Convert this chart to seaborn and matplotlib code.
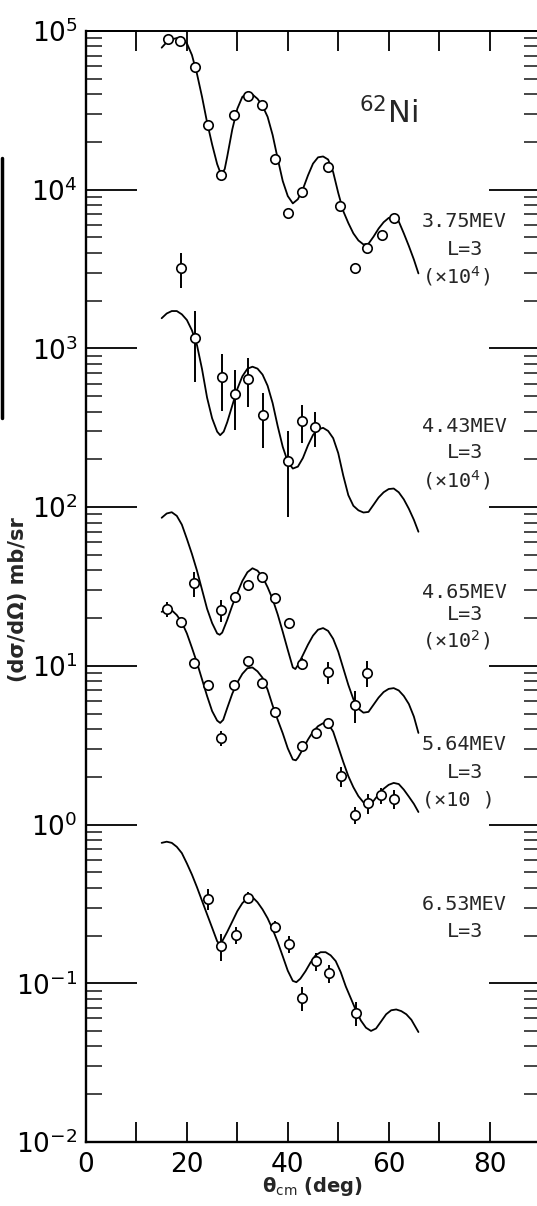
import numpy as np
import pandas as pd
import matplotlib
matplotlib.use("Agg")
import matplotlib.pyplot as plt
import seaborn as sns
from matplotlib.ticker import FixedLocator, LogLocator, NullFormatter
from matplotlib.lines import Line2D

# ---- levels of 62Ni, L=3 transfer, and the factor each set is multiplied by ----
levels = ["3.75", "4.43", "4.65", "5.64", "6.53"]
scale = [1e4, 1e4, 1e2, 1e1, 1.0]
scale_text = ["(×10$^{4}$)", "(×10$^{4}$)", "(×10$^{2}$)", "(×10 )", None]

# ---- DWBA curves: theta_cm (deg), dsigma/dOmega (mb/sr) ----
th_375 = [15, 16, 17, 18, 19, 20, 21, 22, 23, 24, 25, 26, 26.8, 27.5, 28, 29, 30, 31, 32, 33,
          34, 35, 36, 37, 38, 39, 40, 41, 42, 43, 44, 45, 46, 47, 48, 49, 50, 51, 52, 53, 54,
          55, 56, 57, 58, 59, 60, 61, 62, 63, 64, 65, 65.9]
cs_375 = [7.85, 8.51, 8.87, 9.02, 8.91, 8.36, 7.06, 5.37, 3.85, 2.66, 1.93, 1.45, 1.24, 1.35,
          1.62, 2.40, 3.24, 3.85, 4.05, 3.98, 3.74, 3.37, 2.88, 2.21, 1.57, 1.135, 0.912, 0.820,
          0.871, 1.009, 1.23, 1.46, 1.60, 1.62, 1.55, 1.29, 0.955, 0.733, 0.617, 0.531, 0.479,
          0.452, 0.457, 0.506, 0.569, 0.624, 0.664, 0.673, 0.631, 0.531, 0.442, 0.363, 0.297]

th_443 = [15, 16, 17, 18, 19, 20, 21, 22, 23, 24, 25, 26, 26.6, 27.3, 28, 29, 30, 31, 32, 33,
          34, 35, 36, 37, 38, 39, 40, 41, 42, 43, 44, 45, 46, 47, 48, 49, 50, 51, 52, 53, 54,
          55, 56, 57, 58, 59, 60, 61, 62, 63, 64, 65, 65.9]
cs_443 = [0.155, 0.166, 0.172, 0.172, 0.164, 0.151, 0.130, 0.105, 0.0741, 0.0490, 0.0363,
          0.0299, 0.0284, 0.0299, 0.0343, 0.0437, 0.0556, 0.0668, 0.0745, 0.0767, 0.0746,
          0.0684, 0.0582, 0.0452, 0.0324, 0.0240, 0.0193, 0.0175, 0.0180, 0.0204, 0.0245,
          0.0285, 0.0309, 0.0316, 0.0302, 0.0272, 0.0219, 0.0158, 0.0119, 0.0102, 0.00955,
          0.00925, 0.00933, 0.01035, 0.0115, 0.0124, 0.0130, 0.0131, 0.0124, 0.0112, 0.00977,
          0.00832, 0.00700]

th_465 = [15, 16, 17, 18, 19, 20, 21, 22, 23, 24, 25, 26, 26.5, 27, 28, 29, 30, 31, 32, 33,
          34, 35, 36, 37, 38, 39, 40, 41, 41.5, 42, 43, 44, 45, 46, 47, 48, 49, 50, 51, 52, 53,
          54, 55, 56, 57, 58, 59, 60, 61, 62, 63, 64, 65, 65.9]
cs_465 = [0.857, 0.912, 0.929, 0.881, 0.776, 0.631, 0.507, 0.398, 0.302, 0.229, 0.186, 0.160,
          0.157, 0.162, 0.195, 0.240, 0.288, 0.343, 0.389, 0.412, 0.398, 0.363, 0.313, 0.263,
          0.211, 0.164, 0.126, 0.0977, 0.0955, 0.101, 0.117, 0.136, 0.155, 0.169, 0.173, 0.166,
          0.148, 0.123, 0.0966, 0.0759, 0.0617, 0.0537, 0.0507, 0.0513, 0.0569, 0.0631, 0.0684,
          0.0716, 0.0724, 0.0700, 0.0646, 0.0575, 0.0479, 0.0378]

th_564 = [15, 16, 17, 18, 19, 20, 21, 22, 23, 24, 25, 26, 26.6, 27.2, 28, 29, 30, 31, 32, 33,
          34, 35, 36, 37, 38, 39, 40, 41, 41.6, 42, 43, 44, 45, 46, 47, 48, 49, 50, 51, 52, 53,
          54, 55, 56, 57, 58, 59, 60, 61, 62, 63, 64, 65, 65.9]
cs_564 = [2.19, 2.25, 2.24, 2.09, 1.88, 1.60, 1.30, 1.047, 0.822, 0.646, 0.519, 0.452, 0.437,
          0.457, 0.543, 0.668, 0.785, 0.891, 0.966, 0.977, 0.923, 0.841, 0.708, 0.562, 0.457,
          0.376, 0.302, 0.257, 0.254, 0.263, 0.299, 0.343, 0.385, 0.417, 0.435, 0.432, 0.385,
          0.309, 0.248, 0.202, 0.172, 0.151, 0.138, 0.133, 0.141, 0.155, 0.168, 0.178, 0.183,
          0.180, 0.166, 0.150, 0.135, 0.120]

th_653 = [15, 16, 17, 18, 19, 20, 21, 22, 23, 24, 25, 26, 26.5, 27, 28, 29, 30, 31, 32, 33,
          34, 35, 36, 37, 38, 39, 40, 41, 41.7, 42.5, 43.5, 44.5, 45.5, 46.5, 47.5, 48.5, 49.5,
          50.5, 51.5, 52.5, 53.5, 54.5, 55.5, 56.5, 57.5, 58.5, 59.5, 60.5, 61.5, 62.5, 63.5,
          64.5, 65.9]
cs_653 = [0.767, 0.780, 0.767, 0.724, 0.661, 0.569, 0.484, 0.403, 0.331, 0.272, 0.224, 0.184,
          0.176, 0.184, 0.211, 0.245, 0.285, 0.320, 0.343, 0.349, 0.324, 0.292, 0.257, 0.219,
          0.182, 0.148, 0.120, 0.1035, 0.1016, 0.107, 0.119, 0.135, 0.150, 0.157, 0.157, 0.150,
          0.138, 0.1175, 0.0955, 0.0804, 0.0676, 0.0582, 0.0525, 0.0501, 0.0519, 0.0575,
          0.0638, 0.0676, 0.0684, 0.0668, 0.0638, 0.0589, 0.0493]

# ---- measured angular distributions: theta_cm, dsigma/dOmega, error (mb/sr) ----
ex_th_375 = [16.3, 18.7, 21.6, 24.1, 26.8, 29.4, 32.2, 34.9, 37.5, 40.1, 42.9, 48.0, 50.4,
             53.4, 55.8, 58.7, 61.1]
ex_cs_375 = [8.91, 8.65, 5.93, 2.57, 1.24, 2.95, 3.89, 3.42, 1.56, 0.713, 0.966, 1.39, 0.789,
             0.321, 0.430, 0.519, 0.664]
ex_er_375 = [0.0] * 17

ex_th_443 = [18.8, 21.6, 27.0, 29.6, 32.2, 35.1, 40.1, 42.9, 45.4]
ex_cs_443 = [0.321, 0.116, 0.0661, 0.0516, 0.0646, 0.0380, 0.0195, 0.0349, 0.0320]
ex_er_443 = [0.080, 0.055, 0.026, 0.021, 0.022, 0.0144, 0.0108, 0.0094, 0.0080]

ex_th_465 = [21.5, 26.8, 29.6, 32.1, 34.9, 37.5, 40.3, 42.9, 48.0, 53.4, 55.8]
ex_cs_465 = [0.333, 0.225, 0.272, 0.323, 0.363, 0.267, 0.186, 0.1026, 0.0914, 0.0566, 0.0902]
ex_er_465 = [0.060, 0.035, 0.010, 0.010, 0.010, 0.010, 0.015, 0.009, 0.014, 0.013, 0.017]

ex_th_564 = [16.1, 18.8, 21.4, 24.2, 26.8, 29.4, 32.1, 34.9, 37.5, 42.9, 45.6, 48.0, 50.6,
             53.4, 55.9, 58.5, 61.1]
ex_cs_564 = [2.28, 1.89, 1.04, 0.757, 0.351, 0.757, 1.07, 0.780, 0.512, 0.313, 0.378, 0.437,
             0.202, 0.115, 0.136, 0.153, 0.145]
ex_er_564 = [0.25, 0.0, 0.0, 0.03, 0.040, 0.0, 0.0, 0.0, 0.0, 0.015, 0.0, 0.0, 0.030, 0.014,
             0.020, 0.018, 0.020]

ex_th_653 = [24.2, 26.8, 29.8, 32.1, 37.5, 40.3, 42.9, 45.5, 48.2, 53.6]
ex_cs_653 = [0.340, 0.171, 0.201, 0.344, 0.226, 0.177, 0.0807, 0.138, 0.116, 0.0649]
ex_er_653 = [0.050, 0.033, 0.025, 0.030, 0.020, 0.022, 0.014, 0.018, 0.015, 0.011]

curves = [(th_375, cs_375), (th_443, cs_443), (th_465, cs_465), (th_564, cs_564), (th_653, cs_653)]
points = [(ex_th_375, ex_cs_375, ex_er_375), (ex_th_443, ex_cs_443, ex_er_443),
          (ex_th_465, ex_cs_465, ex_er_465), (ex_th_564, ex_cs_564, ex_er_564),
          (ex_th_653, ex_cs_653, ex_er_653)]

curve_df = pd.concat(
    [pd.DataFrame({"theta": t, "sigma": np.asarray(s) * f, "level": lv})
     for (t, s), f, lv in zip(curves, scale, levels)], ignore_index=True)
exp_df = pd.concat(
    [pd.DataFrame({"theta": t, "sigma": np.asarray(s) * f, "err": np.asarray(e) * f, "level": lv})
     for (t, s, e), f, lv in zip(points, scale, levels)], ignore_index=True)

# ---- figure ----
sns.set_style("white")
plt.rcParams["font.family"] = ["DejaVu Sans"]
plt.rcParams["mathtext.fontset"] = "dejavusans"

W, H = 537, 1206
fig = plt.figure(figsize=(W / 100, H / 100), dpi=100)
px_l, px_r, px_t, px_b = 86, 540, 31, 1142
ax = fig.add_axes([px_l / W, 1 - px_b / H, (px_r - px_l) / W, (px_b - px_t) / H])
ax.set_yscale("log")

err_df = exp_df[exp_df["err"] > 0]
ax.errorbar(err_df["theta"], err_df["sigma"], yerr=err_df["err"], fmt="none",
            ecolor="black", elinewidth=1.4, capsize=0, zorder=2)
sns.lineplot(data=curve_df, x="theta", y="sigma", units="level", estimator=None, sort=False,
             color="black", linewidth=1.3, ax=ax, zorder=3)
sns.scatterplot(data=exp_df, x="theta", y="sigma", marker="o", s=46, color="white",
                edgecolor="black", linewidth=1.2, ax=ax, zorder=4)

ax.set_xlim(0, 90)
ax.set_ylim(1e-2, 1e5)
ax.set_xlabel("")
ax.set_ylabel("")

for side in ["left", "bottom"]:
    ax.spines[side].set_linewidth(1.7)
ax.spines["top"].set_linewidth(1.4)
for sp in ax.spines.values():
    sp.set_color("black")

ax.set_xticks(np.arange(0, 91, 10))
ax.set_xticklabels(["0", "", "20", "", "40", "", "60", "", "80", ""])
ax.tick_params(axis="x", which="major", direction="in", length=14.5, width=1.3,
               top=True, bottom=True, labelsize=19, pad=7, colors="black")
ax.tick_params(axis="x", which="minor", top=False, bottom=False)

decades = [1e-2, 1e-1, 1e0, 1e1, 1e2, 1e3, 1e4, 1e5]
ax.yaxis.set_major_locator(FixedLocator(decades))
ax.set_yticklabels(["$10^{-2}$", "$10^{-1}$", "$10^{0}$", "$10^{1}$", "$10^{2}$",
                    "$10^{3}$", "$10^{4}$", "$10^{5}$"])
ax.yaxis.set_minor_locator(LogLocator(base=10, subs=np.arange(2, 10), numticks=30))
ax.yaxis.set_minor_formatter(NullFormatter())
ax.tick_params(axis="y", which="major", direction="in", length=37, width=1.3,
               left=True, right=True, labelsize=19, pad=6, colors="black")
ax.tick_params(axis="y", which="minor", direction="in", length=11.5, width=1.2,
               left=True, right=True)


def fx(x):
    return x / W


def fy(y):
    return 1 - y / H


# nucleus
fig.text(fx(388), fy(123), r"$^{62}$Ni", fontsize=22, ha="center", va="baseline")

# level annotations
mono = "DejaVu Sans Mono"
label_rows = [(227, 255, 283), (432, 458, 487), (598, 620, 647), (750, 778, 805), (910, 937, None)]
for lv, txt, (y1, y2, y3) in zip(levels, scale_text, label_rows):
    fig.text(fx(422), fy(y1), f"{lv}MEV", family=mono, fontsize=14.5, ha="left", va="baseline")
    fig.text(fx(465), fy(y2), "L=3", family=mono, fontsize=14.5, ha="center", va="baseline")
    if txt is not None:
        fig.text(fx(422), fy(y3), txt, family=mono, fontsize=14.5, ha="left", va="baseline")

# axis titles
fig.text(fx(18), fy(600), "(dσ/dΩ) mb/sr", rotation=90, fontsize=15, fontweight="bold",
         ha="center", va="center")
fig.text(fx(313), fy(1187), "θ$_{\\rm cm}$ (deg)", fontsize=14, fontweight="bold",
         ha="center", va="center")

# dark page edge along the left margin
fig.add_artist(Line2D([fx(1.5), fx(1.5)], [fy(158), fy(418)], color="black", lw=2.5,
                      transform=fig.transFigure))

fig.savefig("out.png", dpi=100, facecolor="white")
